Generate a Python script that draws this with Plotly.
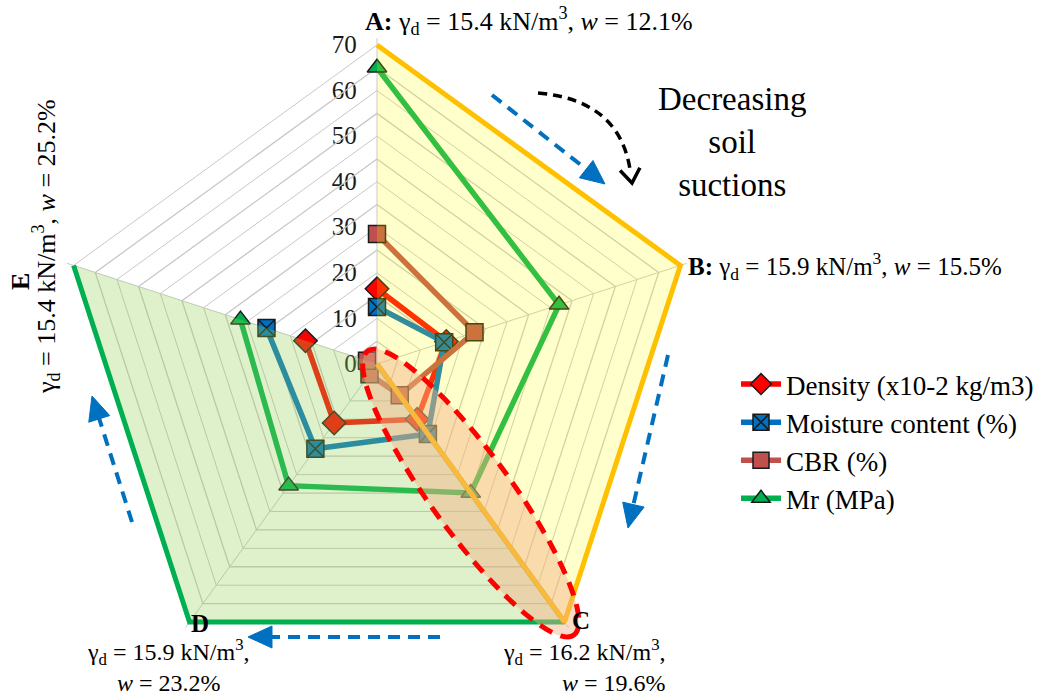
import numpy as np
import plotly.graph_objects as go

W, H = 1054, 698

# ---------------- data ----------------
categories = ["A", "B", "C", "D", "E"]
density = [16.5, 16.0, 15.0, 16.0, 16.5]      # x10-2 kg/m3
moisture = [12.5, 15.5, 19.0, 23.0, 25.5]     # %
cbr = [28.5, 22.5, 8.5, 2.8, 2.3]             # %
mr = [65.0, 42.0, 35.0, 33.0, 31.5]           # MPa
zone_wet = [0, 0, 70, 70, 70]                 # green shaded zone
zone_dry = [70, 70, 70, 0, 0]                 # yellow shaded zone
r_major = [0, 10, 20, 30, 40, 50, 60, 70]
r_minor = [5, 15, 25, 35, 45, 55, 65]
R_MAX = 71.5

FONT = "Liberation Serif"

# polar geometry (pixels): centre and radius of the 70 ring
CX, CY, R70 = 377, 364, 319
RFULL = R70 * R_MAX / 70


def px(x, y):
    return x / W, 1 - y / H


fig = go.Figure()

# intermediate (every 5) grid rings
for v in r_minor:
    fig.add_trace(go.Scatterpolar(
        r=[v] * (len(categories) + 1), theta=categories + categories[:1],
        mode="lines", line=dict(color="#C8C8C8", width=1.3),
        showlegend=False, hoverinfo="skip"))

series = [
    ("Density (x10-2 kg/m3)", density, "#FF0000", "diamond", 18),
    ("Moisture content (%)", moisture, "#0070C0", "square-x", 17),
    ("CBR (%)", cbr, "#C0504D", "square", 17),
    ("Mr (MPa)", mr, "#00B050", "triangle-up", 17),
]
for i, (name, vals, col, sym, ms) in enumerate(series):
    fig.add_trace(go.Scatterpolar(
        r=vals, theta=categories, name=name, mode="lines+markers",
        line=dict(color=col, width=5.5),
        marker=dict(symbol=sym, size=ms, color=col,
                    line=dict(color="#1a1a1a", width=1.5)),
    ))

fig.add_trace(go.Scatterpolar(
    r=zone_wet, theta=categories, fill="toself", mode="lines",
    fillcolor="rgba(146,208,80,0.30)", line=dict(color="#00B050", width=5),
    showlegend=False, hoverinfo="skip"))
fig.add_trace(go.Scatterpolar(
    r=zone_dry, theta=categories, fill="toself", mode="lines",
    fillcolor="rgba(255,255,0,0.20)", line=dict(color="#FFC000", width=5),
    showlegend=False, hoverinfo="skip"))

shapes = []
# ellipse around spoke C
ang = np.deg2rad(90 - 144)
ux, uy = np.cos(ang), -np.sin(ang)
L = R70
mx, my = CX + ux * L / 2, CY + uy * L / 2
a, b = L / 2 + 16, 40
t = np.linspace(0, 2 * np.pi, 90)
ex = mx + a * np.cos(t) * ux - b * np.sin(t) * uy
ey = my + a * np.cos(t) * uy + b * np.sin(t) * ux
pts = [px(x, y) for x, y in zip(ex, ey)]
path = "M " + " L ".join(f"{p[0]:.5f},{p[1]:.5f}" for p in pts) + " Z"
shapes.append(dict(type="path", path=path, xref="paper", yref="paper",
                   fillcolor="rgba(244,176,132,0.45)",
                   line=dict(color="#FF0000", width=5, dash="14px,9px"),
                   layer="above"))

BLUE = "#0070C0"


def arrow(x0, y0, x1, y1, color, hl=24, hw=11, width=4, dash="12px,8px", curve=None):
    dx, dy = x1 - x0, y1 - y0
    if curve is not None:
        dx, dy = x1 - curve[0], y1 - curve[1]
    n = np.hypot(dx, dy)
    dx, dy = dx / n, dy / n
    bx, by = x1 - dx * hl, y1 - dy * hl
    p0, p1 = px(x0, y0), px(bx + dx * 2, by + dy * 2)
    if curve is None:
        shapes.append(dict(type="line", xref="paper", yref="paper",
                           x0=p0[0], y0=p0[1], x1=p1[0], y1=p1[1],
                           line=dict(color=color, width=width, dash=dash),
                           layer="above"))
    else:
        pc = px(*curve)
        shapes.append(dict(type="path", xref="paper", yref="paper",
                           path=f"M {p0[0]:.5f},{p0[1]:.5f} Q {pc[0]:.5f},{pc[1]:.5f} {p1[0]:.5f},{p1[1]:.5f}",
                           line=dict(color=color, width=width, dash=dash),
                           layer="above"))
    q1 = px(bx - dy * hw, by + dx * hw)
    q2 = px(bx + dy * hw, by - dx * hw)
    tip = px(x1, y1)
    if color == "black":
        shapes.append(dict(type="path", xref="paper", yref="paper",
                           path=f"M {q1[0]:.5f},{q1[1]:.5f} L {tip[0]:.5f},{tip[1]:.5f} L {q2[0]:.5f},{q2[1]:.5f}",
                           line=dict(color=color, width=width), layer="above"))
    else:
        shapes.append(dict(type="path", xref="paper", yref="paper",
                           path=f"M {q1[0]:.5f},{q1[1]:.5f} L {tip[0]:.5f},{tip[1]:.5f} L {q2[0]:.5f},{q2[1]:.5f} Z",
                           fillcolor=color, line=dict(color=color, width=1),
                           layer="above"))


arrow(492, 95, 605, 184, BLUE)
arrow(668, 355, 628, 528, BLUE)
arrow(440, 637, 248, 637, BLUE)
arrow(132, 522, 92, 396, BLUE)
arrow(538, 93, 632, 183, "black", hl=14, hw=10, width=3.5, dash="9px,6px", curve=(620, 100))

ann = []


def text(x, y, s, size=26, xanchor="center", yanchor="middle", align="center", angle=0):
    p = px(x, y)
    ann.append(dict(x=p[0], y=p[1], xref="paper", yref="paper", text=s,
                    showarrow=False, xanchor=xanchor, yanchor=yanchor,
                    align=align, textangle=angle,
                    font=dict(family=FONT, size=size, color="black")))


gd = "γ<sub>d</sub>"
text(363, 21, f"<b>A:</b> {gd} = 15.4 kN/m<sup>3</sup>, <i>w</i> = 12.1%", xanchor="left")
text(686, 266, f"<b>B:</b> {gd} = 15.9 kN/m<sup>3</sup>, <i>w</i> = 15.5%", xanchor="left", size=25)
text(570, 620, "<b>C</b>", xanchor="left", size=25)
text(668, 698, f"{gd} = 16.2 kN/m<sup>3</sup>,<br><i>w</i> = 19.6%",
     xanchor="right", yanchor="bottom", align="right", size=24)
text(200, 623, "<b>D</b>", size=25)
text(168, 698, f"{gd} = 15.9 kN/m<sup>3</sup>,<br><i>w</i> = 23.2%",
     yanchor="bottom", size=24)
text(20, 282, "<b>E</b>", angle=-90)
text(46, 247, f"{gd} = 15.4 kN/m<sup>3</sup>, <i>w</i> = 25.2%", angle=-90)
text(732, 142, "Decreasing<br>soil<br>suctions", size=33)

d0, d1 = px(CX - RFULL, CY + RFULL), px(CX + RFULL, CY - RFULL)

fig.update_layout(
    width=W, height=H,
    margin=dict(l=0, r=0, t=0, b=0),
    paper_bgcolor="white",
    font=dict(family=FONT, size=24, color="black"),
    polar=dict(
        domain=dict(x=[d0[0], d1[0]], y=[d0[1], d1[1]]),
        bgcolor="white",
        gridshape="linear",
        radialaxis=dict(range=[0, R_MAX], tickvals=r_major,
                        angle=90, tickangle=90, showline=False,
                        ticks="outside", ticklen=11, tickcolor="rgba(0,0,0,0)",
                        gridcolor="#C8C8C8", gridwidth=1.3,
                        side="counterclockwise", layer="below traces",
                        tickfont=dict(family=FONT, size=25, color="#1a1a1a")),
        angularaxis=dict(rotation=90, direction="clockwise",
                         showticklabels=False, ticks="", showline=False,
                         gridcolor="#C8C8C8", gridwidth=1.3,
                         layer="below traces"),
    ),
    legend=dict(x=px(736, 0)[0], y=px(0, 360)[1], xanchor="left", yanchor="top",
                font=dict(family=FONT, size=27, color="black"),
                tracegroupgap=0, bgcolor="rgba(0,0,0,0)", itemwidth=40),
    shapes=shapes,
    annotations=ann,
)

fig.write_html("out.html")
